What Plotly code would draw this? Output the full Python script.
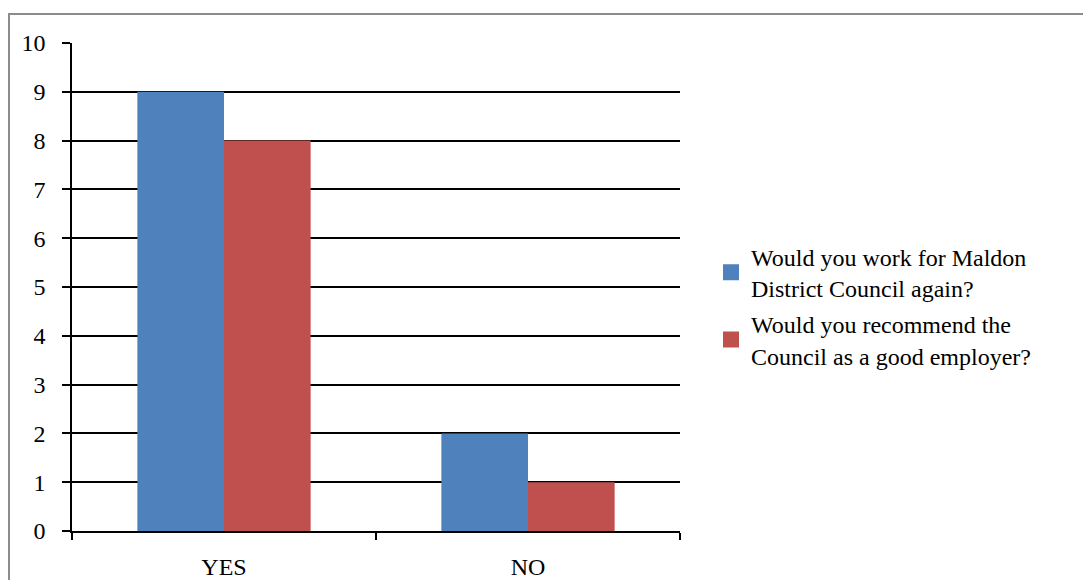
import plotly.graph_objects as go

categories = ["YES", "NO"]
series_names = ["Would you work for Maldon<br>District Council again?",
                "Would you recommend the<br>Council as a good employer?"]
work_again = [9, 2]
recommend = [8, 1]
colors = ["#4F81BD", "#C0504D"]

W, H = 1083, 580
L, R, T, B = 72, 403, 43, 49
pw, ph = W - L - R, H - T - B

fig = go.Figure()
for vals, name, col in [(work_again, series_names[0], colors[0]),
                        (recommend, series_names[1], colors[1])]:
    fig.add_trace(go.Bar(x=categories, y=vals, name=name, showlegend=False,
                         marker=dict(color=col, line=dict(width=0))))
# legend entries with larger square swatches
for i, (name, col) in enumerate(zip(series_names, colors)):
    fig.add_trace(go.Scatter(x=[None], y=[None], mode="markers", name=name,
                             legendgroup=f"g{i}",
                             marker=dict(symbol="square", size=16, color=col)))

font = dict(family="Liberation Serif", size=24, color="black")

fig.update_layout(
    width=W, height=H,
    margin=dict(l=L, r=R, t=T, b=B, pad=0, autoexpand=False),
    paper_bgcolor="white", plot_bgcolor="white",
    barmode="group", bargap=0.43, bargroupgap=0,
    font=font,
    showlegend=True,
    legend=dict(x=(711 - L) / pw, xanchor="left", y=(H - B - 306) / ph, yanchor="middle",
                font=font, bgcolor="rgba(0,0,0,0)", tracegroupgap=2,
                itemwidth=30),
    xaxis=dict(showgrid=False, showline=True, linecolor="black", linewidth=1.6,
               ticks="outside", tickson="boundaries", ticklen=7, tickwidth=1.6,
               tickcolor="black", ticklabelstandoff=13, zeroline=False, automargin=False),
    yaxis=dict(range=[0, 10], dtick=1, showgrid=True, gridcolor="black", gridwidth=1.6,
               showline=True, linecolor="black", linewidth=1.6,
               ticks="outside", ticklen=8, tickwidth=1.6, tickcolor="black",
               ticklabelstandoff=12, zeroline=False, automargin=False),
    shapes=[dict(type="rect", xref="paper", yref="paper",
                 x0=(9 - L) / pw, x1=(W + 20 - L) / pw,
                 y0=-(B + 20) / ph, y1=(H - B - 14) / ph,
                 line=dict(color="#8c8c8c", width=2), fillcolor="rgba(0,0,0,0)",
                 layer="below")],
)

fig.write_html("out.html")
